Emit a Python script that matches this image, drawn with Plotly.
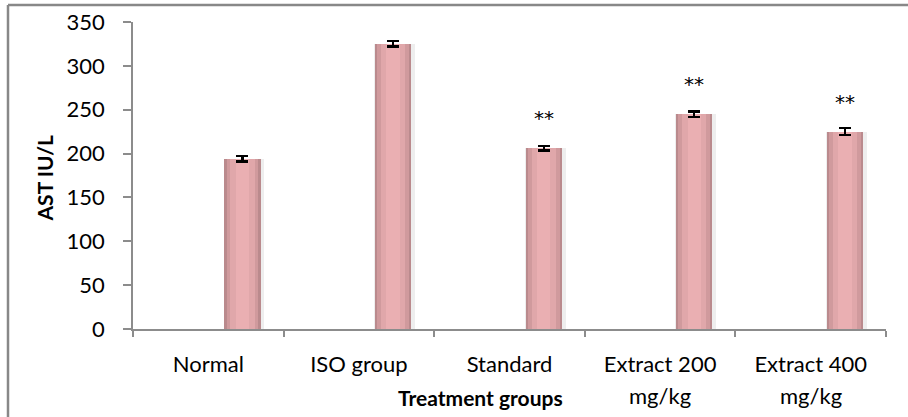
import plotly.graph_objects as go

categories = ["Normal", "ISO group", "Standard", "Extract 200", "Extract 400"]
tick_line1 = ["Normal", "ISO group", "Standard", "Extract 200", "Extract 400"]
tick_line2 = ["", "", "", "mg/kg", "mg/kg"]
ast_values = [194, 325, 206, 245, 225]
ast_errors = [3, 3, 2.5, 3, 4]
significance = ["", "", "**", "**", "**"]

FONT = "Lato, 'Open Sans', sans-serif"
BAR_W = 0.24
BAR_OFF = 0.107
CENTER = BAR_OFF + BAR_W / 2

fig = go.Figure()

# soft grey shadow behind the bars
fig.add_trace(go.Bar(x=categories, y=ast_values, width=BAR_W + 0.03, offset=BAR_OFF - 0.005,
                     marker=dict(color="#EEEEEE", line=dict(width=0)), hoverinfo="skip",
                     showlegend=False))
# cylinder-like layers (dark edge -> light centre)
layers = [(BAR_W, "#BA8A8D"), (BAR_W - 0.03, "#D09A9D"), (BAR_W - 0.08, "#E0A7AA"), (BAR_W - 0.15, "#EAAFB2")]
for w, c in layers:
    fig.add_trace(go.Bar(x=categories, y=ast_values, width=w, offset=CENTER - w / 2,
                         marker=dict(color=c, line=dict(width=0)), hoverinfo="skip",
                         showlegend=False))
# error bars
fig.add_trace(go.Bar(x=categories, y=ast_values, width=BAR_W, offset=BAR_OFF,
                     marker=dict(color="rgba(0,0,0,0)", line=dict(width=0)),
                     error_y=dict(type="data", array=ast_errors, color="black", thickness=2.2, width=6),
                     showlegend=False))

fig.update_layout(barmode="overlay", bargap=0)

# significance markers
for i, (v, e, s) in enumerate(zip(ast_values, ast_errors, significance)):
    if s:
        fig.add_annotation(x=i + CENTER, y=v, xref="x", yref="y", text=s, showarrow=False,
                           yshift=30, font=dict(family="DejaVu Sans, sans-serif", size=20, color="black"))
# second line of category labels
for i, t in enumerate(tick_line2):
    if t:
        fig.add_annotation(x=i, y=0, xref="x", yref="y", text=t, showarrow=False,
                           yshift=-66, font=dict(family=FONT, size=22, color="black"))

fig.add_annotation(x=0.462, y=-0.2215, xref="paper", yref="paper", text="<b>Treatment groups</b>",
                   showarrow=False, yanchor="middle", xanchor="center",
                   font=dict(family=FONT, size=21, color="black"))
fig.add_annotation(x=-0.117, y=0.49, xref="paper", yref="paper", text="<b>AST IU/L</b>",
                   textangle=-90, showarrow=False, xanchor="center", yanchor="middle",
                   font=dict(family=FONT, size=21, color="black"))

# outer chart border
fig.add_shape(type="line", xref="paper", yref="paper", x0=-0.1660, x1=-0.1660, y0=1.0554, y1=-0.40,
              line=dict(color="#888888", width=2.5))
fig.add_shape(type="line", xref="paper", yref="paper", x0=-0.1660, x1=1.05, y0=1.0554, y1=1.0554,
              line=dict(color="#888888", width=2.5))

fig.update_xaxes(type="category", tickvals=categories, ticktext=tick_line1, showgrid=False,
                 showline=True, linecolor="#8C8C8C", linewidth=1.5, ticks="outside",
                 tickson="boundaries", ticklen=6, tickcolor="#8C8C8C", tickwidth=1.5,
                 tickfont=dict(family=FONT, size=22, color="black"), ticklabelstandoff=15,
                 range=[-0.5, 4.5], automargin=False)
fig.update_yaxes(range=[0, 350], dtick=50, showgrid=False, zeroline=False, showline=True,
                 linecolor="#8C8C8C", linewidth=1.5, ticks="outside", ticklen=8,
                 tickcolor="#8C8C8C", tickwidth=1.5, ticklabelstandoff=14,
                 tickfont=dict(family=FONT, size=22, color="black"), automargin=False)

fig.update_layout(width=908, height=417, margin=dict(l=133, r=22, t=22, b=88, autoexpand=False),
                  plot_bgcolor="white", paper_bgcolor="white", showlegend=False)

fig.write_html("out.html", config={"displayModeBar": False},
               post_script="document.body.style.margin='0';")
